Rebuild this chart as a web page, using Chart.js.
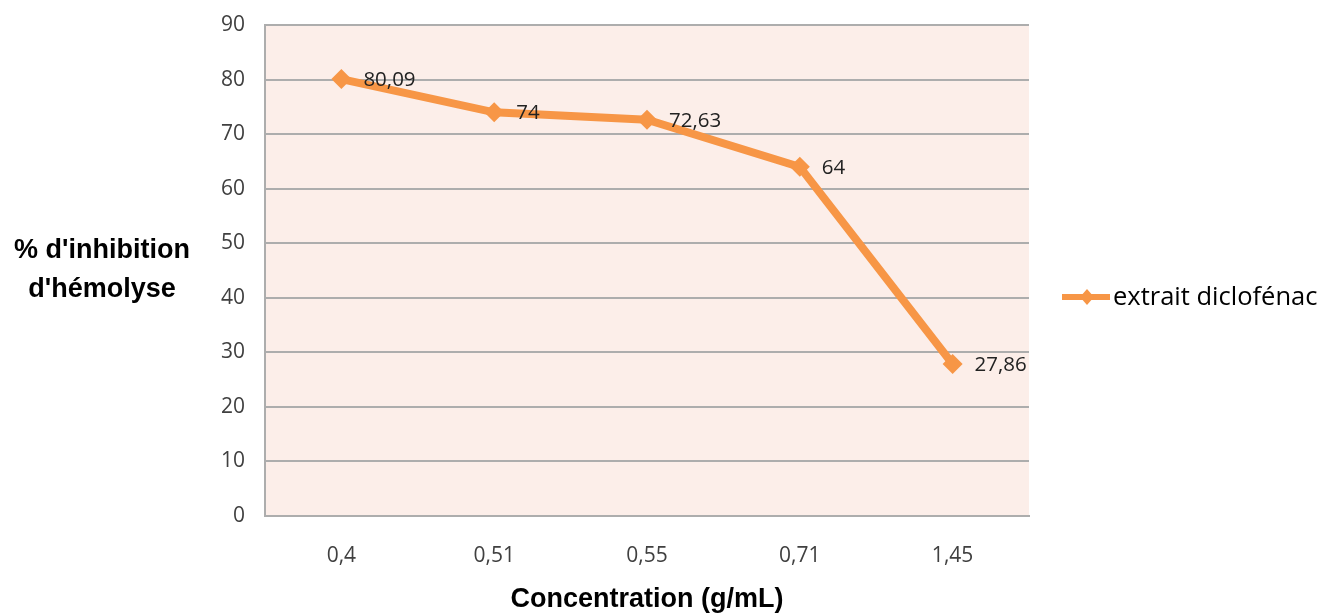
<!DOCTYPE html>
<html>
<head>
<meta charset="utf-8">
<script src="https://cdn.jsdelivr.net/npm/chart.js@4"></script>
<style>
  html, body { margin: 0; padding: 0; background: #ffffff; }
  #wrap { width: 1326px; height: 614px; position: relative; }
</style>
</head>
<body>
<div id="wrap"><canvas id="c" width="1326" height="614"></canvas></div>
<script>
// Concentrations (category axis) and inhibition of hemolysis (%)
const categories = ['0,4', '0,51', '0,55', '0,71', '1,45'];
const inhibition = [80.09, 74, 72.63, 64, 27.86];
const seriesName = 'extrait diclofénac';
const yMin = 0, yMax = 90, yStep = 10;
const xTitle = 'Concentration (g/mL)';
const yTitleLines = ["% d'inhibition", "d'hémolyse"];

const ORANGE = '#F79646';
const GRID = '#ADADAD';
const TEXT = '#404040';
const TICK_FONT = "'Open Sans', sans-serif";
const TITLE_FONT = "'Liberation Sans', Arial, sans-serif";

const fmt = v => String(v).replace('.', ',');

// Pink plot background
const plotBackground = {
  id: 'plotBackground',
  beforeDraw(chart) {
    const { ctx, chartArea: a } = chart;
    ctx.save();
    ctx.fillStyle = '#FCEEE9';
    ctx.fillRect(a.left, a.top, a.right - a.left, a.bottom - a.top);
    ctx.restore();
  }
};

// Value labels next to each marker
const valueLabels = {
  id: 'valueLabels',
  afterDatasetsDraw(chart) {
    const { ctx } = chart;
    const meta = chart.getDatasetMeta(0);
    ctx.save();
    ctx.font = "20.5px " + TICK_FONT;
    ctx.fillStyle = '#222222';
    ctx.textAlign = 'left';
    ctx.textBaseline = 'middle';
    meta.data.forEach((pt, i) => {
      ctx.fillText(fmt(chart.data.datasets[0].data[i]), pt.x + 22, pt.y + 1);
    });
    ctx.restore();
  }
};

// Axis titles and the legend entry
const annotations = {
  id: 'annotations',
  afterDraw(chart) {
    const { ctx, chartArea: a } = chart;
    ctx.save();
    ctx.fillStyle = '#000000';
    ctx.font = "bold 27px " + TITLE_FONT;
    ctx.textAlign = 'center';
    ctx.textBaseline = 'middle';
    ctx.fillText(xTitle, (a.left + a.right) / 2, 600);
    ctx.fillText(yTitleLines[0], 102, 251);
    ctx.fillText(yTitleLines[1], 102, 290);

    // legend
    const ds = chart.data.datasets[0];
    const ly = 297;
    ctx.strokeStyle = ds.borderColor;
    ctx.lineWidth = 6;
    ctx.beginPath();
    ctx.moveTo(1062, ly);
    ctx.lineTo(1110, ly);
    ctx.stroke();
    ctx.fillStyle = ds.borderColor;
    ctx.beginPath();
    ctx.moveTo(1087, ly - 8);
    ctx.lineTo(1094, ly);
    ctx.lineTo(1087, ly + 8);
    ctx.lineTo(1080, ly);
    ctx.closePath();
    ctx.fill();
    ctx.fillStyle = '#000000';
    ctx.font = "25.5px " + TICK_FONT;
    ctx.textAlign = 'left';
    ctx.fillText(ds.label, 1113, ly + 1);
    ctx.restore();
  }
};

new Chart(document.getElementById('c'), {
  type: 'line',
  data: {
    labels: categories,
    datasets: [{
      label: seriesName,
      data: inhibition,
      borderColor: ORANGE,
      backgroundColor: ORANGE,
      borderWidth: 8,
      pointStyle: 'rectRot',
      pointRadius: 10,
      pointHoverRadius: 10,
      pointBackgroundColor: ORANGE,
      pointBorderWidth: 0,
      tension: 0,
      fill: false
    }]
  },
  options: {
    responsive: false,
    animation: false,
    events: [],
    layout: { padding: { top: 25, right: 297, bottom: 0, left: 0 } },
    plugins: {
      legend: { display: false },
      tooltip: { enabled: false }
    },
    scales: {
      x: {
        type: 'category',
        offset: true,
        grid: { display: false, drawTicks: false },
        border: { display: true, color: GRID, width: 2 },
        ticks: {
          font: { family: TICK_FONT, size: 21 },
          color: TEXT,
          padding: 27,
          maxRotation: 0
        },
        afterFit(scale) {
          scale.height = 98;
          scale.paddingLeft = 0;
          scale.paddingRight = 0;
        }
      },
      y: {
        min: yMin,
        max: yMax,
        grid: { color: GRID, lineWidth: 2, drawTicks: false },
        border: { display: true, color: GRID, width: 2 },
        ticks: {
          stepSize: yStep,
          font: { family: TICK_FONT, size: 21 },
          color: TEXT,
          padding: 20
        },
        afterFit(scale) {
          scale.width = 265;
          scale.paddingTop = 0;
          scale.paddingBottom = 0;
        }
      }
    }
  },
  plugins: [plotBackground, valueLabels, annotations]
});
</script>
</body>
</html>
